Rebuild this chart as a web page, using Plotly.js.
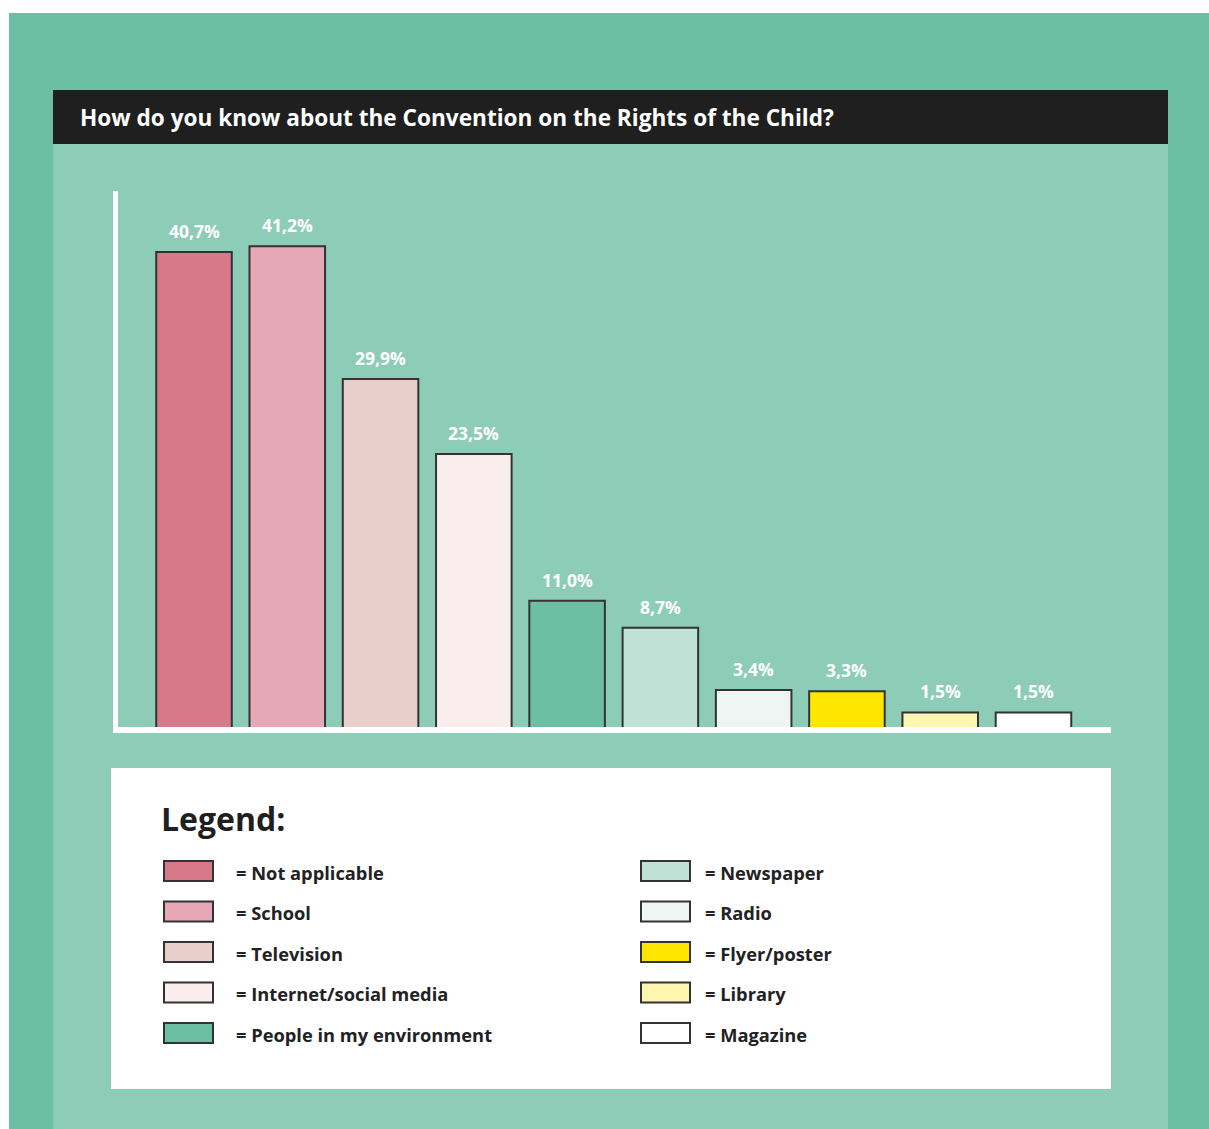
<!DOCTYPE html>
<html>
<head>
<meta charset="utf-8">
<script src="https://cdn.plot.ly/plotly-3.0.1.min.js"></script>
<style>
  html, body { margin: 0; padding: 0; background: #ffffff; }
  #chart { width: 1209px; height: 1129px; }
</style>
</head>
<body>
<div id="chart"></div>
<script>
// ---- Data ----
const categories = [
  "Not applicable", "School", "Television", "Internet/social media",
  "People in my environment", "Newspaper", "Radio", "Flyer/poster",
  "Library", "Magazine"
];
const values = [40.7, 41.2, 29.9, 23.5, 11.0, 8.7, 3.4, 3.3, 1.5, 1.5];
const barColors = [
  "#d67a89", "#e6a8b4", "#e8cfcc", "#f9eeed", "#6cbfa3",
  "#c0e1d6", "#eef5f2", "#ffe600", "#fff6b0", "#ffffff"
];
const titleText = "How do you know about the Convention on the Rights of the Child?";
const legendTitle = "Legend:";

// ---- Layout geometry ----
const W = 1209, H = 1129;
const ML = 115, MR = 98, MT = 191, MB = 399;
const PW = W - ML - MR, PH = H - MT - MB;
const px = x => (x - ML) / PW;
const py = y => (MT + PH - y) / PH;

const FONT = "'Open Sans', Lato, sans-serif";
const OUTER = "#6cbfa3", INNER = "#8dcdb7", DARK = "#1f1f1f";

const idx = categories.map((_, i) => i);

const trace = {
  type: "bar",
  x: idx,
  y: values,
  marker: { color: barColors, line: { color: "#333333", width: 2 } },
  hoverinfo: "skip",
  showlegend: false
};

const shapes = [
  { type: "rect", xref: "paper", yref: "paper", layer: "below",
    x0: px(9), x1: px(1209), y0: py(13), y1: py(1129), fillcolor: OUTER, line: { width: 0 } },
  { type: "rect", xref: "paper", yref: "paper", layer: "below",
    x0: px(53), x1: px(1168), y0: py(90), y1: py(1129), fillcolor: INNER, line: { width: 0 } },
  { type: "rect", xref: "paper", yref: "paper", layer: "below",
    x0: px(53), x1: px(1168), y0: py(90), y1: py(144), fillcolor: DARK, line: { width: 0 } },
  { type: "rect", xref: "paper", yref: "paper", layer: "below",
    x0: px(111), x1: px(1111), y0: py(768), y1: py(1089), fillcolor: "#ffffff", line: { width: 0 } },
  { type: "line", xref: "paper", yref: "paper", layer: "above",
    x0: px(115.5), x1: px(115.5), y0: py(191), y1: py(733), line: { color: "#ffffff", width: 5 } },
  { type: "line", xref: "paper", yref: "paper", layer: "above",
    x0: px(113), x1: px(1111), y0: py(730), y1: py(730), line: { color: "#ffffff", width: 6 } }
];

const annotations = [
  { text: "<b>" + titleText + "</b>", xref: "paper", yref: "paper", x: px(78), y: py(117),
    xanchor: "left", yanchor: "middle", showarrow: false,
    font: { family: FONT, size: 22.6, color: "#ffffff" } },
  { text: "<b>" + legendTitle + "</b>", xref: "paper", yref: "paper", x: px(159), y: py(819),
    xanchor: "left", yanchor: "middle", showarrow: false,
    font: { family: FONT, size: 32, color: DARK } }
];

idx.forEach(i => {
  annotations.push({
    text: "<b>" + values[i].toFixed(1).replace(".", ",") + "%</b>",
    x: i, y: values[i], xref: "x", yref: "y",
    yshift: 21, xanchor: "center", yanchor: "middle", showarrow: false,
    font: { family: FONT, size: 17.5, color: "#ffffff" }
  });
});

const rowY = [871, 911.5, 952, 992.5, 1033];
idx.forEach(i => {
  const col = i < 5 ? 0 : 1;
  const r = i % 5;
  const sx0 = col === 0 ? 164 : 641;
  const tx = col === 0 ? 234 : 703;
  const cy = rowY[r];
  shapes.push({
    type: "rect", xref: "paper", yref: "paper", layer: "above",
    x0: px(sx0), x1: px(sx0 + 49), y0: py(cy - 10), y1: py(cy + 10),
    fillcolor: barColors[i], line: { color: "#333333", width: 2 }
  });
  annotations.push({
    text: "<b>= " + categories[i] + "</b>", xref: "paper", yref: "paper",
    x: px(tx), y: py(cy + 1), xanchor: "left", yanchor: "middle", showarrow: false,
    font: { family: FONT, size: 18.3, color: "#222222" }
  });
});

const layout = {
  width: W, height: H,
  margin: { l: ML, r: MR, t: MT, b: MB, pad: 0 },
  paper_bgcolor: "#ffffff",
  plot_bgcolor: "rgba(0,0,0,0)",
  bargap: 0.19,
  xaxis: { range: [-0.847, 9.831], showgrid: false, zeroline: false, showline: false,
           showticklabels: false, ticks: "", fixedrange: true },
  yaxis: { range: [0, 45.9], showgrid: false, zeroline: false, showline: false,
           showticklabels: false, ticks: "", fixedrange: true },
  shapes: shapes,
  annotations: annotations,
  showlegend: false
};

Plotly.newPlot("chart", [trace], layout, { displayModeBar: false, staticPlot: true });
</script>
</body>
</html>
